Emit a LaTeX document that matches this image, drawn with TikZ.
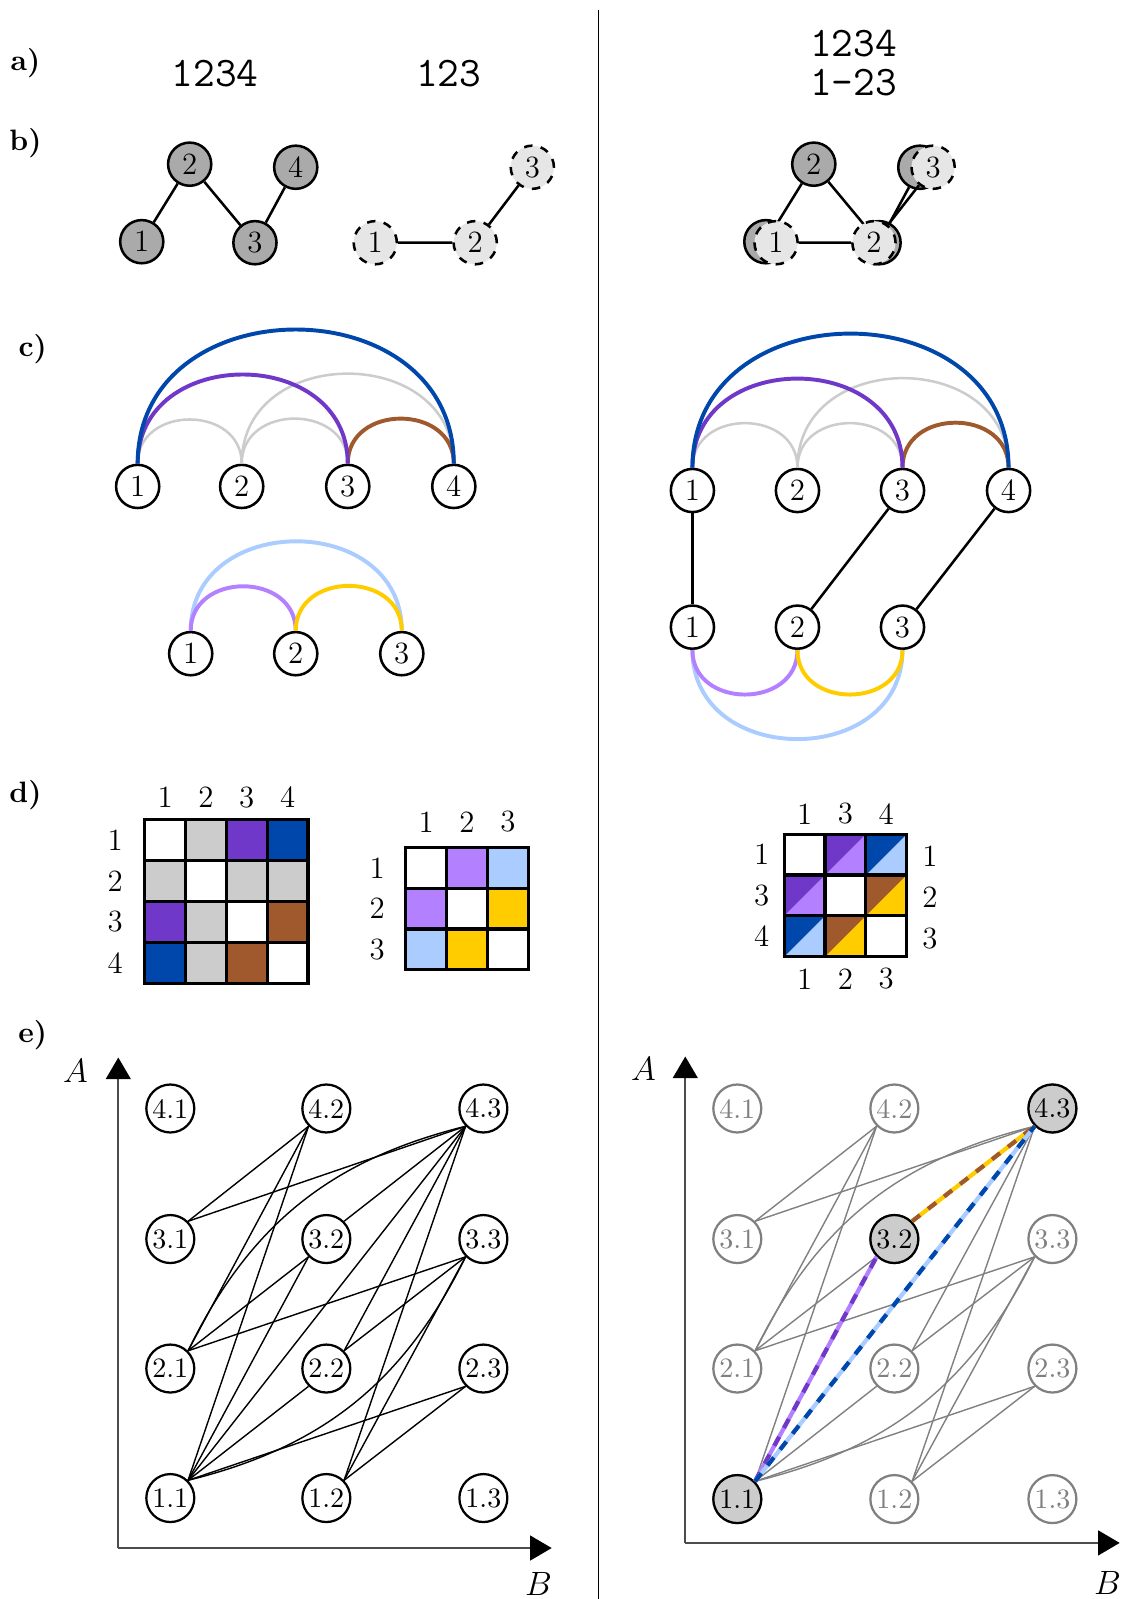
\documentclass[tikz,border=0pt]{standalone}
\usepackage{amsmath}
\usepackage{amssymb}
\usetikzlibrary{arrows.meta}

\definecolor{cblue}{HTML}{0047AB}
\definecolor{cpurple}{HTML}{7038C8}
\definecolor{cbrown}{HTML}{A0592C}
\definecolor{cgray}{HTML}{CCCCCC}
\definecolor{clav}{HTML}{B380FF}
\definecolor{clight}{HTML}{AACCFF}
\definecolor{cyellow}{HTML}{FFCC00}
\definecolor{dgray}{HTML}{AAAAAA}
\definecolor{lgray}{HTML}{E6E6E6}

\begin{document}
\begin{tikzpicture}[x=0.01275cm,y=-0.01275cm,line width=0.9pt,
  lab/.style={font=\bfseries\fontsize{10.5}{12}\selectfont},
  seq/.style={font=\ttfamily\fontsize{15}{14}\selectfont,align=center},
  vtx/.style={circle,draw,line width=0.9pt,minimum size=0.54cm,inner sep=0pt,font=\fontsize{11}{13}\selectfont},
  gfull/.style={vtx,fill=dgray},
  gpart/.style={vtx,fill=lgray,dashed},
  wv/.style={vtx,fill=white},
  num/.style={font=\fontsize{11}{13}\selectfont},
  up/.style={out=90,in=90,looseness=1.45},
  dn/.style={out=-90,in=-90,looseness=1.45},
  grarc/.style={line width=0.9pt,cgray},
  bond/.style={line width=1.4pt},
  pv/.style={circle,draw,line width=0.8pt,minimum size=0.6cm,inner sep=0pt,fill=white,font=\fontsize{10}{12}\selectfont},
  pvg/.style={pv,draw=black!50,text=black!50},
  pvh/.style={pv,fill=cgray},
  axis/.style={black!70,line width=0.7pt,-{Triangle[width=0.31cm,length=0.27cm,color=black]}},
  ax/.style={font=\fontsize{13}{15}\selectfont},
  hl/.style={line width=1.5pt},
  hd/.style={line width=1.5pt,dash pattern=on 3.6pt off 3.6pt}]
\useasboundingbox (0,0) rectangle (1100,1568);
\draw[line width=0.6pt] (587,10) -- (587,1568);

\node[lab] at (25,62) {a)};
\node[lab] at (25,140) {b)};
\node[lab] at (32,342) {c)};
\node[lab] at (25,780) {d)};
\node[lab] at (32,1015) {e)};

% a)
\node[seq] (sa) at (211,72) {1234};
\node[seq] (sb) at (440,72) {123};
\node[seq] (sc) at (837,62) {1234\\1-23};

% b)
\foreach \n/\x/\y in {1/139/237,2/186/161,3/250/238,4/290/164}
  \node[gfull] (p\n) at (\x,\y) {\n};
\draw (p1) -- (p2) -- (p3) -- (p4);
\foreach \n/\x/\y in {1/368/238,2/466/238,3/522/164}
  \node[gpart] (q\n) at (\x,\y) {\n};
\draw (q1) -- (q2) -- (q3);
\foreach \n/\x/\y/\t in {1/751/237/,2/798/161/2,3/862/238/,4/902/164/}
  \node[gfull] (r\n) at (\x,\y) {\t};
\draw (r1) -- (r2) -- (r3) -- (r4);
\foreach \n/\x/\y in {1/761/238,2/857/238,3/915/164}
  \node[gpart] (t\n) at (\x,\y) {\n};
\draw (t1) -- (t2) -- (t3);

% c)
\foreach \n/\x in {1/135,2/237,3/341,4/445}
  \node[wv] (a\n) at (\x,477) {\n};
\draw[grarc] (a1.north) to[up] (a2.north);
\draw[grarc] (a2.north) to[up] (a3.north);
\draw[grarc] (a2.north) to[up] (a4.north);
\draw[bond,cbrown] (a3.north) to[up] (a4.north);
\draw[bond,cpurple] (a1.north) to[up] (a3.north);
\draw[bond,cblue] (a1.north) to[up] (a4.north);
\foreach \n/\x in {1/187,2/290,3/394}
  \node[wv] (b\n) at (\x,641) {\n};
\draw[bond,clight] (b1.north) to[up] (b3.north);
\draw[bond,clav] (b1.north) to[up] (b2.north);
\draw[bond,cyellow] (b2.north) to[up] (b3.north);

\foreach \n/\x in {1/679,2/782,3/885,4/989}
  \node[wv] (u\n) at (\x,481) {\n};
\foreach \n/\x in {1/679,2/782,3/885}
  \node[wv] (w\n) at (\x,615) {\n};
\draw[grarc] (u1.north) to[up] (u2.north);
\draw[grarc] (u2.north) to[up] (u3.north);
\draw[grarc] (u2.north) to[up] (u4.north);
\draw[bond,cbrown] (u3.north) to[up] (u4.north);
\draw[bond,cpurple] (u1.north) to[up] (u3.north);
\draw[bond,cblue] (u1.north) to[up] (u4.north);
\draw (u1) -- (w1);
\draw (u3) -- (w2);
\draw (u4) -- (w3);
\draw[bond,clight] (w1.south) to[dn] (w3.south);
\draw[bond,clav] (w1.south) to[dn] (w2.south);
\draw[bond,cyellow] (w2.south) to[dn] (w3.south);

% d)
\foreach \r/\c/\col in {1/2/cgray,1/3/cpurple,1/4/cblue,2/1/cgray,2/3/cgray,2/4/cgray,3/1/cpurple,3/2/cgray,3/4/cbrown,4/1/cblue,4/2/cgray,4/3/cbrown}
  \fill[\col] ({102+40*\c},{764+40*\r}) rectangle ++(40,40);
\foreach \i in {1,2,3}{
  \draw[line width=1.1pt] ({142+40*\i},804) -- ++(0,160);
  \draw[line width=1.1pt] (142,{804+40*\i}) -- ++(160,0);}
\draw[line width=1.1pt] (142,804) rectangle ++(160,160);
\foreach \i in {1,...,4}{
  \node[num] at ({122+40*\i},782) {\i};
  \node[num] at (113,{784+40*\i}) {\i};}

\foreach \r/\c/\col in {1/2/clav,1/3/clight,2/1/clav,2/3/cyellow,3/1/clight,3/2/cyellow}
  \fill[\col] ({358+40*\c},{791+40*\r}) rectangle ++(40,40);
\foreach \i in {1,2}{
  \draw[line width=1.1pt] ({398+40*\i},831) -- ++(0,120);
  \draw[line width=1.1pt] (398,{831+40*\i}) -- ++(120,0);}
\draw[line width=1.1pt] (398,831) rectangle ++(120,120);
\foreach \i in {1,2,3}{
  \node[num] at ({378+40*\i},806) {\i};
  \node[num] at (370,{811+40*\i}) {\i};}

\foreach \r/\c/\dk/\lt in {1/2/cpurple/clav,1/3/cblue/clight,2/1/cpurple/clav,2/3/cbrown/cyellow,3/1/cblue/clight,3/2/cbrown/cyellow}{
  \fill[\lt] ({729+40*\c},{778+40*\r}) rectangle ++(40,40);
  \fill[\dk] ({729+40*\c},{778+40*\r}) -- ++(40,0) -- ++(-40,40) -- cycle;}
\foreach \i in {1,2}{
  \draw[line width=1.1pt] ({769+40*\i},818) -- ++(0,120);
  \draw[line width=1.1pt] (769,{818+40*\i}) -- ++(120,0);}
\draw[line width=1.1pt] (769,818) rectangle ++(120,120);
\foreach \i/\t in {1/1,2/3,3/4}{
  \node[num] at ({749+40*\i},798) {\t};
  \node[num] at (747,{798+40*\i}) {\t};}
\foreach \i in {1,2,3}{
  \node[num] at (912,{800+40*\i}) {\i};
  \node[num] at ({749+40*\i},960) {\i};}

% e)
\coordinate (o1) at (116,1518);
\coordinate (ya) at (116,1037);
\coordinate (xb) at (541,1518);
\draw[axis] (o1) -- (ya);
\draw[axis] (o1) -- (xb);
\node[ax] (la) at (74,1050) {$A$};
\node[ax] (lb) at (528,1553) {$B$};
\foreach \i/\y in {4/1087,3/1215,2/1342,1/1469}
  \foreach \j/\x in {1/167,2/320,3/474}
    \node[pv] (L\i\j) at (\x,\y) {\i.\j};
\foreach \s/\t in {11/22,11/23,11/32,11/42,11/43,12/23,12/33,12/43,21/32,21/33,21/42,22/33,22/43,31/42,31/43,32/43}
  \draw[line width=0.5pt] (L\s.north east) -- (L\t.south west);
\draw[line width=0.5pt] (L21.north east) to[bend left=25] (L43.south west);
\draw[line width=0.5pt] (L11.north east) to[bend right=25] (L33.south west);

\coordinate (o2) at (672,1513);
\coordinate (yc) at (672,1036);
\coordinate (xd) at (1098,1513);
\draw[axis] (o2) -- (yc);
\draw[axis] (o2) -- (xd);
\node[ax] (lc) at (631,1048) {$A$};
\node[ax] (ld) at (1086,1552) {$B$};
\foreach \i/\y in {4/1087,3/1215,2/1342,1/1470}
  \foreach \j/\x in {1/723,2/877,3/1032}
    \node[pvg] (R\i\j) at (\x,\y) {\i.\j};
\foreach \i/\j in {1/1,3/2,4/3}
  \node[pvh] at (R\i\j) {\i.\j};
\foreach \s/\t in {11/22,11/23,11/42,12/23,12/33,12/43,21/32,21/33,21/42,22/33,22/43,31/42,31/43}
  \draw[line width=0.5pt,black!50] (R\s.north east) -- (R\t.south west);
\draw[line width=0.5pt,black!50] (R21.north east) to[bend left=25] (R43.south west);
\draw[line width=0.5pt,black!50] (R11.north east) to[bend right=25] (R33.south west);
\draw[hl,clav] (R11.north east) -- (R32.south west);
\draw[hd,cpurple] (R11.north east) -- (R32.south west);
\draw[hl,cyellow] (R32.north east) -- (R43.south west);
\draw[hd,cbrown] (R32.north east) -- (R43.south west);
\draw[hl,clight] (R11.north east) -- (R43.south west);
\draw[hd,cblue] (R11.north east) -- (R43.south west);
\end{tikzpicture}
\end{document}
